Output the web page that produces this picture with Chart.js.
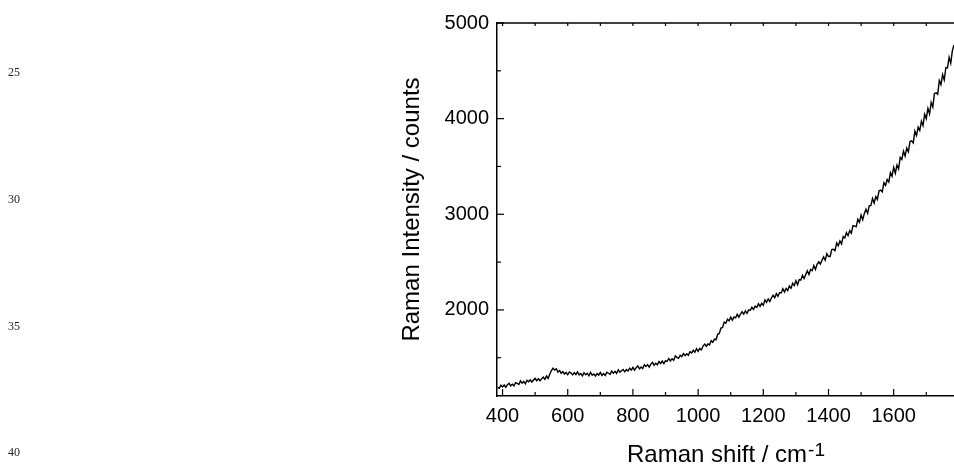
<!DOCTYPE html>
<html>
<head>
  <meta name="viewport" content="width=device-width, initial-scale=1.0">
  <title>Raman spectrum</title>
  <script src="https://cdn.jsdelivr.net/npm/chart.js"></script>
  <style>
    body {
      margin: 0;
      padding: 0;
      background: #fff;
    }
    #wrap {
      position: relative;
      width: 954px;
      height: 469px;
    }
    canvas {
      display: block;
    }
    .ln {
      position: absolute;
      left: 8px;
      font-family: "Liberation Serif", serif;
      font-size: 12px;
      color: #222;
      line-height: 12px;
    }
  </style>
</head>
<body>
  <div id="wrap">
    <canvas id="myChart" width="954" height="469"></canvas>
    <div class="ln" style="top:66px">25</div>
    <div class="ln" style="top:193px">30</div>
    <div class="ln" style="top:320px">35</div>
    <div class="ln" style="top:446px">40</div>
  </div>

  <script>
    // data (cm-1 / counts)
    const shift = [
      385, 390, 395, 400, 405, 410, 415, 420, 425, 430, 435, 440, 445, 450, 455, 460, 465, 470, 475, 480,
      485, 490, 495, 500, 505, 510, 515, 520, 525, 530, 535, 540, 545, 550, 555, 560, 565, 570, 575, 580,
      585, 590, 595, 600, 605, 610, 615, 620, 625, 630, 635, 640, 645, 650, 655, 660, 665, 670, 675, 680,
      685, 690, 695, 700, 705, 710, 715, 720, 725, 730, 735, 740, 745, 750, 755, 760, 765, 770, 775, 780,
      785, 790, 795, 800, 805, 810, 815, 820, 825, 830, 835, 840, 845, 850, 855, 860, 865, 870, 875, 880,
      885, 890, 895, 900, 905, 910, 915, 920, 925, 930, 935, 940, 945, 950, 955, 960, 965, 970, 975, 980,
      985, 990, 995, 1000, 1005, 1010, 1015, 1020, 1025, 1030, 1035, 1040, 1045, 1050, 1055, 1060, 1065, 1070, 1075, 1080,
      1085, 1090, 1095, 1100, 1105, 1110, 1115, 1120, 1125, 1130, 1135, 1140, 1145, 1150, 1155, 1160, 1165, 1170, 1175, 1180,
      1185, 1190, 1195, 1200, 1205, 1210, 1215, 1220, 1225, 1230, 1235, 1240, 1245, 1250, 1255, 1260, 1265, 1270, 1275, 1280,
      1285, 1290, 1295, 1300, 1305, 1310, 1315, 1320, 1325, 1330, 1335, 1340, 1345, 1350, 1355, 1360, 1365, 1370, 1375, 1380,
      1385, 1390, 1395, 1400, 1405, 1410, 1415, 1420, 1425, 1430, 1435, 1440, 1445, 1450, 1455, 1460, 1465, 1470, 1475, 1480,
      1485, 1490, 1495, 1500, 1505, 1510, 1515, 1520, 1525, 1530, 1535, 1540, 1545, 1550, 1555, 1560, 1565, 1570, 1575, 1580,
      1585, 1590, 1595, 1600, 1605, 1610, 1615, 1620, 1625, 1630, 1635, 1640, 1645, 1650, 1655, 1660, 1665, 1670, 1675, 1680,
      1685, 1690, 1695, 1700, 1705, 1710, 1715, 1720, 1725, 1730, 1735, 1740, 1745, 1750, 1755, 1760, 1765, 1770, 1775, 1780,
      1785
    ];
    const intensity = [
      1190, 1180, 1213, 1194, 1215, 1192, 1218, 1233, 1206, 1223, 1206, 1240, 1231, 1220, 1257, 1234, 1252, 1227, 1264, 1249,
      1268, 1246, 1267, 1284, 1259, 1282, 1258, 1281, 1298, 1274, 1309, 1284, 1330, 1366, 1392, 1371, 1385, 1350, 1366, 1338,
      1356, 1330, 1348, 1322, 1351, 1340, 1321, 1344, 1325, 1352, 1321, 1336, 1311, 1344, 1323, 1338, 1311, 1348, 1317, 1330,
      1309, 1334, 1318, 1346, 1315, 1334, 1315, 1348, 1338, 1327, 1360, 1339, 1358, 1337, 1374, 1349, 1364, 1378, 1353, 1376,
      1361, 1390, 1371, 1400, 1370, 1396, 1414, 1384, 1404, 1388, 1426, 1408, 1428, 1402, 1434, 1452, 1422, 1442, 1426, 1460,
      1440, 1466, 1438, 1470, 1462, 1492, 1466, 1490, 1474, 1518, 1504, 1494, 1526, 1512, 1544, 1522, 1542, 1526, 1564, 1550,
      1578, 1558, 1594, 1566, 1598, 1582, 1622, 1642, 1620, 1644, 1634, 1678, 1662, 1694, 1688, 1745, 1754, 1810, 1817, 1872,
      1861, 1903, 1887, 1924, 1892, 1927, 1917, 1954, 1924, 1957, 1981, 1956, 1990, 1965, 2001, 1996, 2028, 2005, 2039, 2026,
      2064, 2037, 2069, 2048, 2106, 2080, 2114, 2087, 2127, 2153, 2128, 2170, 2142, 2182, 2177, 2221, 2187, 2226, 2202, 2250,
      2226, 2279, 2255, 2305, 2264, 2316, 2311, 2362, 2328, 2369, 2410, 2371, 2423, 2410, 2463, 2422, 2476, 2503, 2480, 2519,
      2554, 2520, 2589, 2558, 2559, 2630, 2635, 2620, 2701, 2670, 2721, 2690, 2767, 2752, 2809, 2776, 2829, 2802, 2879, 2878,
      2869, 2948, 2917, 2992, 2943, 3009, 3054, 3010, 3091, 3091, 3166, 3118, 3185, 3155, 3246, 3252, 3235, 3331, 3302, 3364,
      3337, 3435, 3398, 3490, 3429, 3514, 3475, 3594, 3573, 3660, 3609, 3692, 3653, 3760, 3767, 3746, 3869, 3824, 3911, 3876,
      3973, 3926, 4047, 4000, 4108, 4050, 4170, 4120, 4264, 4270, 4254, 4398, 4356, 4460, 4404, 4534, 4530, 4642, 4580, 4710,
      4770
    ];
    const xTicks = [400, 500, 600, 700, 800, 900, 1000, 1100, 1200, 1300, 1400, 1500, 1600, 1700];
    const xTickLabels = [400, 600, 800, 1000, 1200, 1400, 1600];
    const yTicks = [1500, 2000, 2500, 3000, 3500, 4000, 4500, 5000];
    const yTickLabels = [2000, 3000, 4000, 5000];

    const sansFont = '"Liberation Sans", Arial, sans-serif';

    // inward ticks, top frame line and axis titles
    const frame = {
      id: 'frame',
      afterDraw(chart) {
        const { ctx, chartArea: a, scales: { x, y } } = chart;
        const seg = (x1, y1, x2, y2) => {
          ctx.beginPath();
          ctx.moveTo(x1, y1);
          ctx.lineTo(x2, y2);
          ctx.stroke();
        };
        ctx.save();
        ctx.strokeStyle = '#000';
        ctx.lineWidth = 1.5;
        seg(a.left, a.top, a.right, a.top);

        ctx.lineWidth = 1.2;
        xTicks.forEach(v => {
          const px = x.getPixelForValue(v);
          const len = xTickLabels.includes(v) ? 7 : 4;
          seg(px, a.bottom, px, a.bottom - len);
          seg(px, a.top, px, a.top + 3);
        });
        yTicks.forEach(v => {
          const py = y.getPixelForValue(v);
          const len = yTickLabels.includes(v) ? 7 : 4;
          seg(a.left, py, a.left + len, py);
        });

        // x title with superscript
        ctx.fillStyle = '#000';
        ctx.textBaseline = 'alphabetic';
        ctx.textAlign = 'left';
        const main = 'Raman shift / cm';
        const sup = '-1';
        ctx.font = '24px ' + sansFont;
        const wMain = ctx.measureText(main).width;
        ctx.font = '19px ' + sansFont;
        const wSup = ctx.measureText(sup).width;
        const x0 = (a.left + a.right) / 2 - (wMain + wSup) / 2;
        ctx.font = '24px ' + sansFont;
        ctx.fillText(main, x0, 462);
        ctx.font = '19px ' + sansFont;
        ctx.fillText(sup, x0 + wMain + 1, 456);

        // y title
        ctx.font = '24px ' + sansFont;
        ctx.textAlign = 'center';
        ctx.textBaseline = 'middle';
        ctx.translate(412, (a.top + a.bottom) / 2);
        ctx.rotate(-Math.PI / 2);
        ctx.fillText('Raman Intensity / counts', 0, 0);
        ctx.restore();
      }
    };

    const ctx = document.getElementById('myChart').getContext('2d');
    const chart = new Chart(ctx, {
      type: 'line',
      data: {
        datasets: [{
          data: shift.map((s, i) => ({ x: s, y: intensity[i] })),
          borderColor: '#000',
          borderWidth: 1.4,
          pointRadius: 0,
          tension: 0,
          fill: false
        }]
      },
      options: {
        responsive: false,
        animation: false,
        layout: { padding: { top: 23, right: 0, left: 0, bottom: 0 } },
        plugins: {
          legend: { display: false },
          tooltip: { enabled: false }
        },
        scales: {
          x: {
            type: 'linear',
            min: 383,
            max: 1785,
            afterFit: (s) => { s.height = 73; },
            afterBuildTicks: (s) => { s.ticks = xTickLabels.map(v => ({ value: v })); },
            grid: { drawOnChartArea: false, drawTicks: false },
            border: { display: true, color: '#000', width: 1.5 },
            ticks: {
              autoSkip: false,
              maxRotation: 0,
              padding: 8,
              color: '#000',
              font: { family: sansFont, size: 20 },
              callback: (v) => String(v)
            }
          },
          y: {
            min: 1100,
            max: 5000,
            afterFit: (s) => { s.width = 497; },
            afterBuildTicks: (s) => { s.ticks = yTickLabels.map(v => ({ value: v })); },
            grid: { drawOnChartArea: false, drawTicks: false },
            border: { display: true, color: '#000', width: 1.5 },
            ticks: {
              autoSkip: false,
              padding: 8,
              color: '#000',
              font: { family: sansFont, size: 20 },
              callback: (v) => String(v)
            }
          }
        }
      },
      plugins: [frame]
    });
  </script>
</body>
</html>
